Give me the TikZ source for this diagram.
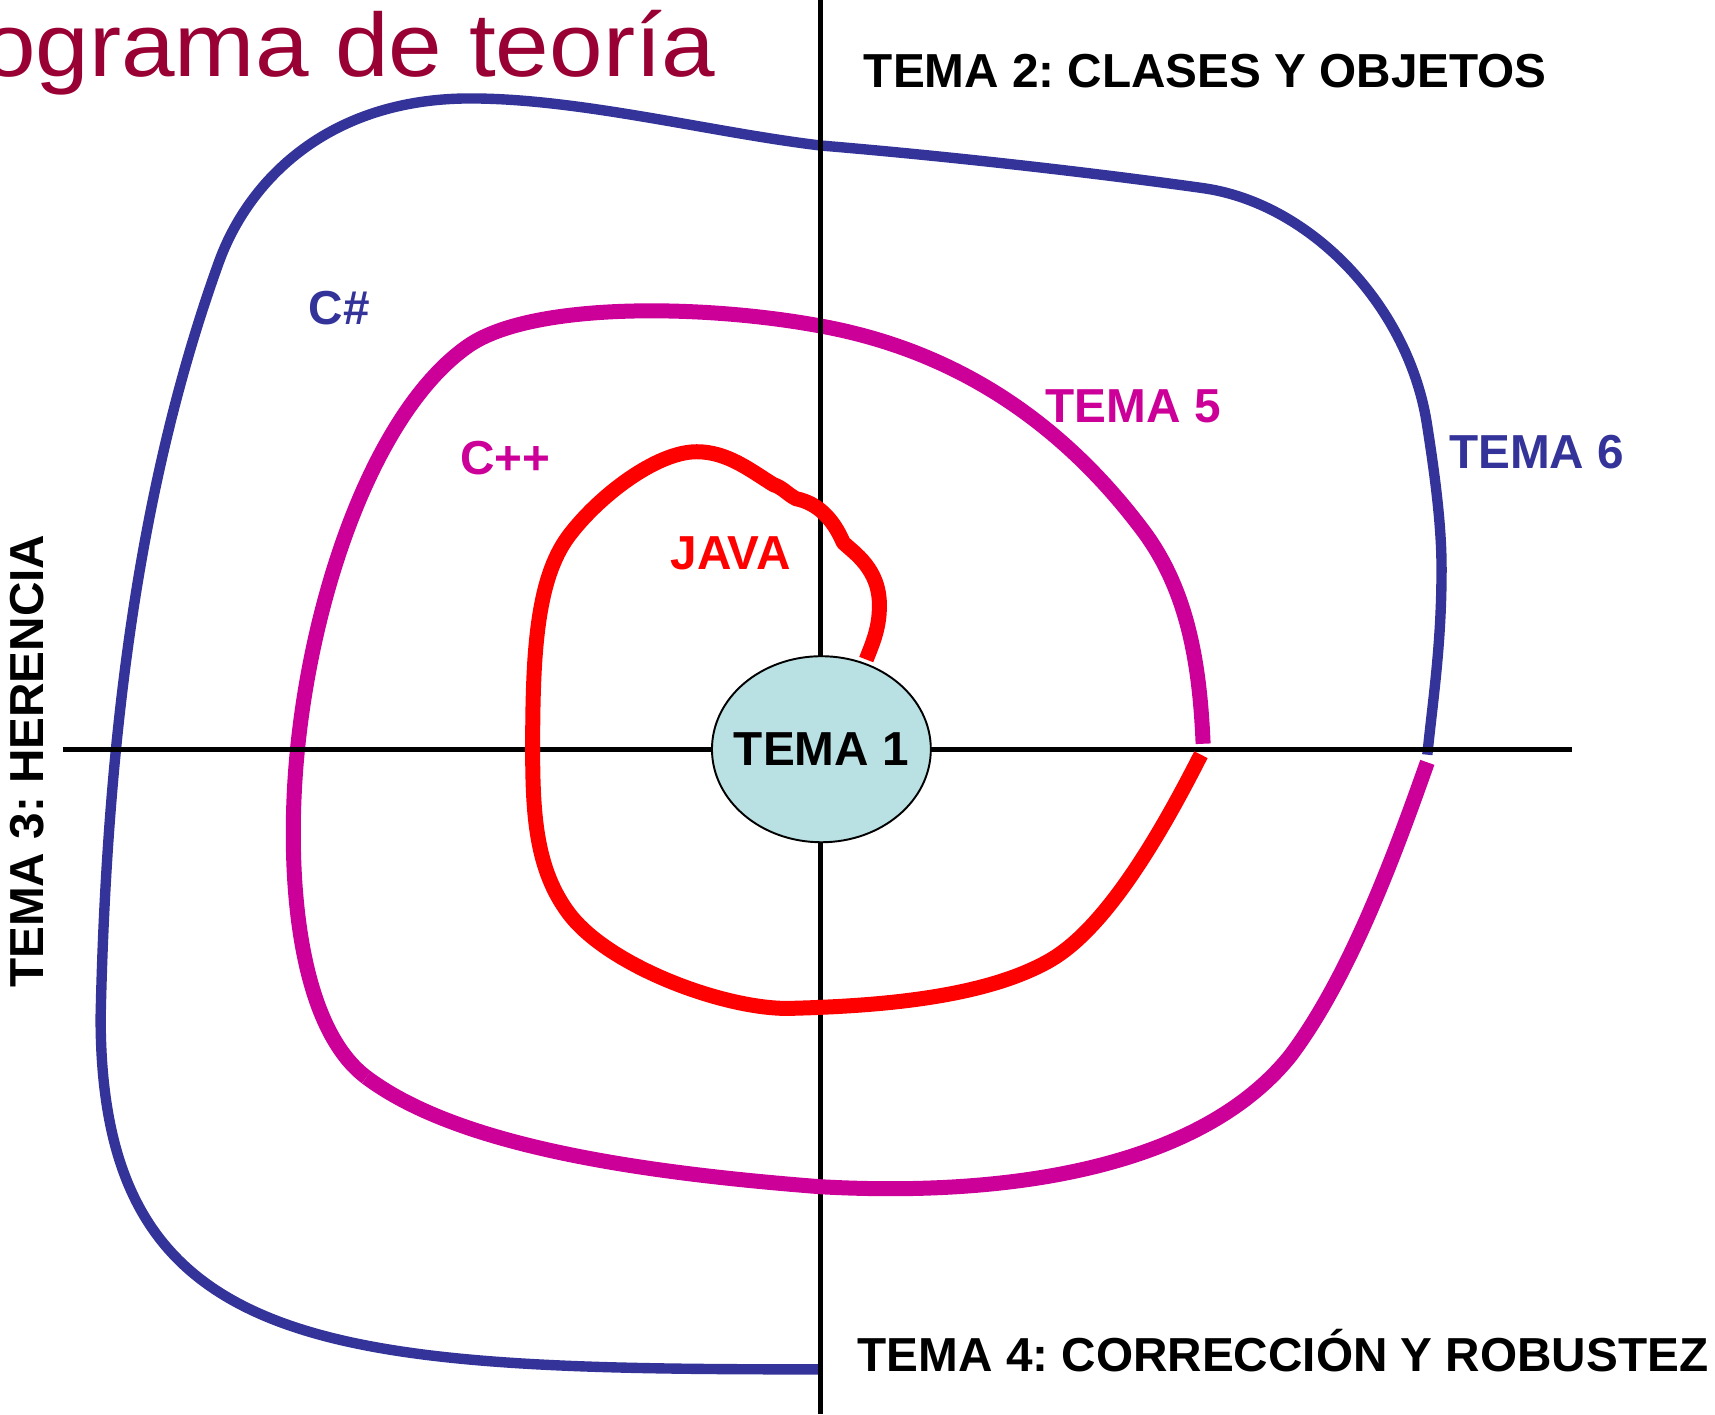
\documentclass[tikz,border=0pt]{standalone}
\usepackage{fontspec}
\setmainfont{Liberation Sans}
\frenchspacing
\usetikzlibrary{shapes.geometric}
\definecolor{cblue}{HTML}{333399}
\definecolor{cmag}{HTML}{CC0099}
\definecolor{cred}{HTML}{FF0000}
\definecolor{ctitle}{HTML}{990033}
\definecolor{cfill}{HTML}{B9E0E3}
\begin{document}
\begin{tikzpicture}[x=0.01cm,y=-0.01cm,
  lbl/.style={font=\fontsize{12.4}{14}\selectfont\bfseries, inner sep=0pt, anchor=base},
  axisline/.style={line width=1.4pt, black},
  blueline/.style={cblue, line width=2.7pt},
  magline/.style={cmag, line width=3.9pt},
  redline/.style={cred, line width=3.9pt, line join=round},
  centre/.style={ellipse, draw=black, line width=0.5pt, fill=cfill, minimum width=2cm, minimum height=1.7cm, inner sep=-8pt, font=\fontsize{12.4}{14}\selectfont\bfseries}
]
\useasboundingbox (0,0) rectangle (1568,1293);

% title
\node[anchor=base west, inner sep=0pt, text=ctitle, font=\fontsize{23.4}{28}\selectfont] (title) at (-17,70) {\scalebox{1.07}[1]{ograma de teoría}};

% TEMA 6 curve (blue)
\draw[blueline] (750,1252)
  .. controls (300,1252) and (92,1240) .. (92,930)
  .. controls (97,700) and (122,456) .. (200,240)
  .. controls (227,165) and (300,90) .. (430,90)
  .. controls (530,90) and (650,121) .. (750,133)
  .. controls (870,143) and (1000,158) .. (1100,172)
  .. controls (1199,186) and (1289,281) .. (1305,390)
  .. controls (1312,435) and (1318,480) .. (1318,520)
  .. controls (1318,590) and (1310,640) .. (1305,690);

% TEMA 5 curve (magenta), upper part
\draw[magline] (1100,680)
  .. controls (1097,610) and (1087,541) .. (1045,485)
  .. controls (973,389) and (877,321) .. (750,298)
  .. controls (642,278) and (484,276) .. (427,317)
  .. controls (345,375) and (287,535) .. (272,685)
  .. controls (261,795) and (271,937) .. (335,985);

% axes
\coordinate (vtop) at (750,0);
\coordinate (vbot) at (750,1293);
\coordinate (hleft) at (58,685);
\coordinate (hright) at (1437,685);
\draw[axisline] (vtop) -- (vbot);
\draw[axisline] (hleft) -- (hright);

% TEMA 5 curve (magenta), lower part
\draw[magline] (335,985)
  .. controls (415,1045) and (570,1071) .. (750,1085)
  .. controls (930,1095) and (1100,1065) .. (1180,965)
  .. controls (1234,893) and (1275,782) .. (1305,697);

% JAVA curve (red)
\draw[redline] (1098,690)
  .. controls (1062,761) and (1012,848) .. (960,878)
  .. controls (899,913) and (800,920) .. (720,922)
  .. controls (660,922) and (556,883) .. (520,835)
  .. controls (490,795) and (487,745) .. (487,685)
  .. controls (487,600) and (490,530) .. (520,490)
  .. controls (547,454) and (600,413) .. (637,413)
  .. controls (665,413) and (686,430) .. (707,443)
  .. controls (716,446) and (720,452) .. (728,456)
  .. controls (748,460) and (762,475) .. (771,496)
  .. controls (780,505) and (805,520) .. (804,555)
  .. controls (804,575) and (797,590) .. (792,603);

% centre
\node[centre] (t1) at (751,685) {TEMA 1};

% labels
\node[lbl] (t2) at (1102,80) {TEMA 2: CLASES Y OBJETOS};
\node[lbl, rotate=90] (t3) at (40,696) {TEMA 3: HERENCIA};
\node[lbl] (t4) at (1173,1254) {TEMA 4: CORRECCIÓN Y ROBUSTEZ};
\node[lbl, text=cblue] (cs) at (310,297) {C\#};
\node[lbl, text=cmag] (cpp) at (462,434) {C++};
\node[lbl, text=cred] (java) at (668,521) {JAVA};
\node[lbl, text=cmag] (t5) at (1036,386) {TEMA 5};
\node[lbl, text=cblue] (t6) at (1405,428) {TEMA 6};
\end{tikzpicture}
\end{document}
